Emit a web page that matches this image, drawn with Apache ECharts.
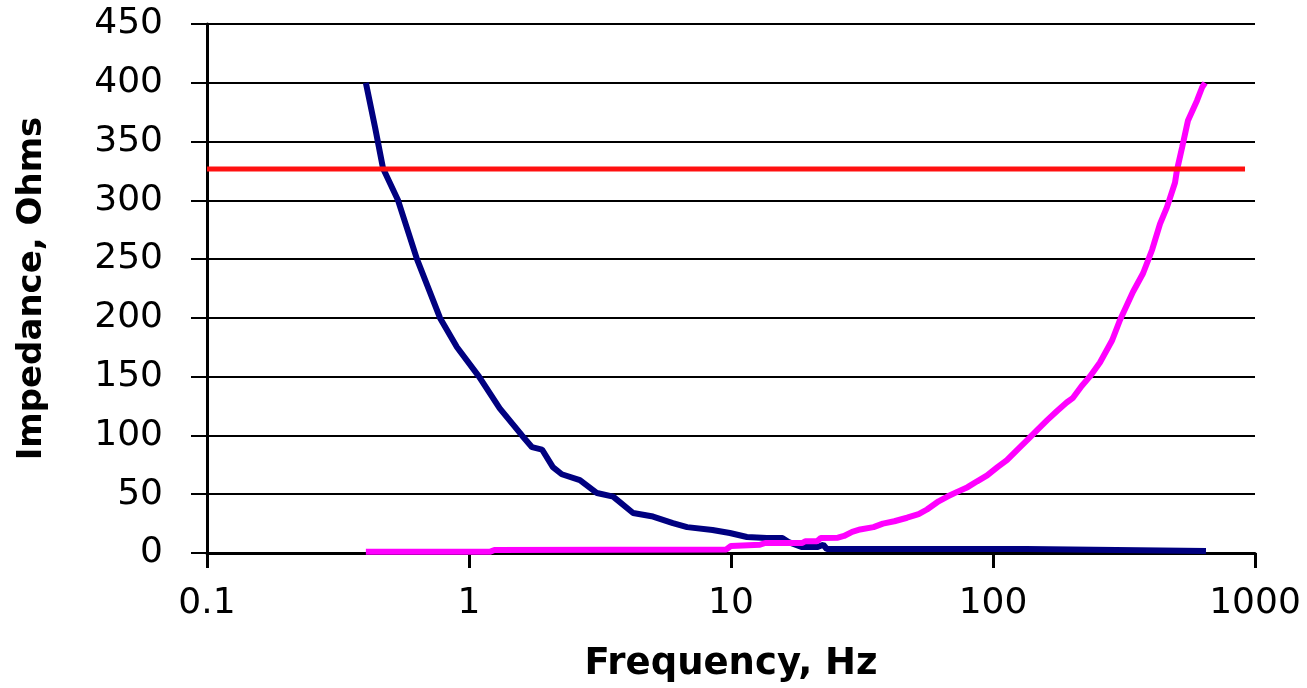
<!DOCTYPE html>
<html>
<head>
<meta charset="utf-8">
<script src="https://cdn.jsdelivr.net/npm/echarts@6/dist/echarts.min.js"></script>
<style>
  html, body { margin: 0; padding: 0; background: #ffffff; }
  #chart { width: 1307px; height: 688px; }
</style>
</head>
<body>
<div id="chart"></div>
<script>
// ---- data ----
var xTickLabels = ['0.1', '1', '10', '100', '1000'];
var yTickLabels = ['0', '50', '100', '150', '200', '250', '300', '350', '400', '450'];

// capacitive branch (navy)
var navyFreq = [0.404, 0.438, 0.47, 0.536, 0.633, 0.775, 0.90, 1.092, 1.31, 1.593, 1.74, 1.90, 2.09, 2.26, 2.65, 3.08, 3.55, 4.23, 5.04, 6.0, 6.8, 8.5, 9.9, 11.5, 13.7, 15.7, 16.7, 18.7, 21.3, 22.5, 23.2, 134, 135, 650];
var navyOhms = [400, 362, 327, 300, 250, 200, 175, 150, 123, 100, 90, 88, 73, 67, 62, 51, 48, 34, 31, 25.5, 22, 19.6, 17, 13.6, 12.8, 12.8, 9, 5, 5, 7, 3.4, 3.4, 1.8, 1.8];

// inductive branch (magenta)
var magentaFreq = [0.404, 1.2, 1.25, 9.6, 10, 12.9, 13.5, 18.7, 19.2, 21.3, 22, 25.6, 27, 29, 31.1, 35, 38, 42, 47, 52, 56, 62, 67, 73, 80, 87, 95, 104, 113, 124, 135, 148, 161, 176, 191, 202, 218, 234, 256, 285, 305, 342, 374, 405, 434, 461, 495, 504, 527, 555, 601, 628, 645];
var magentaOhms = [1, 1, 2.5, 3, 6, 7, 8.5, 8.5, 10, 10, 12.8, 13, 14.5, 18, 20, 22, 25, 27, 30, 33, 37, 44, 48, 52, 56, 61, 66, 73, 79, 88, 96, 105, 113, 121, 128, 132, 142, 150, 162, 181, 198, 222, 238, 258, 280, 294, 315, 326, 345, 368, 385, 396, 400];

// horizontal reference level (red)
var redFreq = [0.1, 916];
var redOhms = [326.6, 326.6];

function zip(a, b) { return a.map(function (v, i) { return [v, b[i]]; }); }

var FONT = 'DejaVu Sans';
var chart = echarts.init(document.getElementById('chart'), null, { renderer: 'canvas' });
chart.setOption({
  backgroundColor: '#ffffff',
  animation: false,
  grid: { left: 207, right: 52, top: 24, bottom: 135, containLabel: false },
  xAxis: {
    type: 'log', logBase: 10, min: 0.1, max: 1000,
    name: 'Frequency, Hz', nameLocation: 'middle', nameGap: 93,
    nameTextStyle: { fontFamily: FONT, fontSize: 37, fontWeight: 'bold', color: '#000' },
    axisLine: { show: true, onZero: false, lineStyle: { color: '#000', width: 3 } },
    axisTick: { show: true, length: 15, lineStyle: { color: '#000', width: 3 } },
    minorTick: { show: false },
    splitLine: { show: false },
    axisLabel: {
      margin: 33, fontFamily: FONT, fontSize: 36, color: '#000',
      formatter: function (v) {
        var idx = Math.round(Math.log10(v) + 1);
        return xTickLabels[idx] !== undefined ? xTickLabels[idx] : '';
      }
    }
  },
  yAxis: {
    type: 'value', min: 0, max: 450, interval: 50,
    name: 'Impedance, Ohms', nameLocation: 'middle', nameGap: 158, nameRotate: 90,
    nameTextStyle: { fontFamily: FONT, fontSize: 34, fontWeight: 'bold', color: '#000' },
    axisLine: { show: true, lineStyle: { color: '#000', width: 3 } },
    axisTick: { show: true, length: 16, lineStyle: { color: '#000', width: 2 } },
    splitLine: { show: true, lineStyle: { color: '#000', width: 2 } },
    axisLabel: {
      margin: 44, fontFamily: FONT, fontSize: 36, color: '#000',
      formatter: function (v) { return yTickLabels[Math.round(v / 50)]; }
    }
  },
  series: [
    {
      type: 'line', name: 'Capacitive', data: zip(navyFreq, navyOhms),
      showSymbol: false, lineStyle: { color: '#000080', width: 6 }, z: 3
    },
    {
      type: 'line', name: 'Inductive', data: zip(magentaFreq, magentaOhms),
      showSymbol: false, lineStyle: { color: '#ff00ff', width: 6 }, z: 4
    },
    {
      type: 'line', name: 'Level', data: zip(redFreq, redOhms),
      showSymbol: false, lineStyle: { color: '#ff1010', width: 5 }, z: 5
    }
  ]
});
</script>
</body>
</html>
